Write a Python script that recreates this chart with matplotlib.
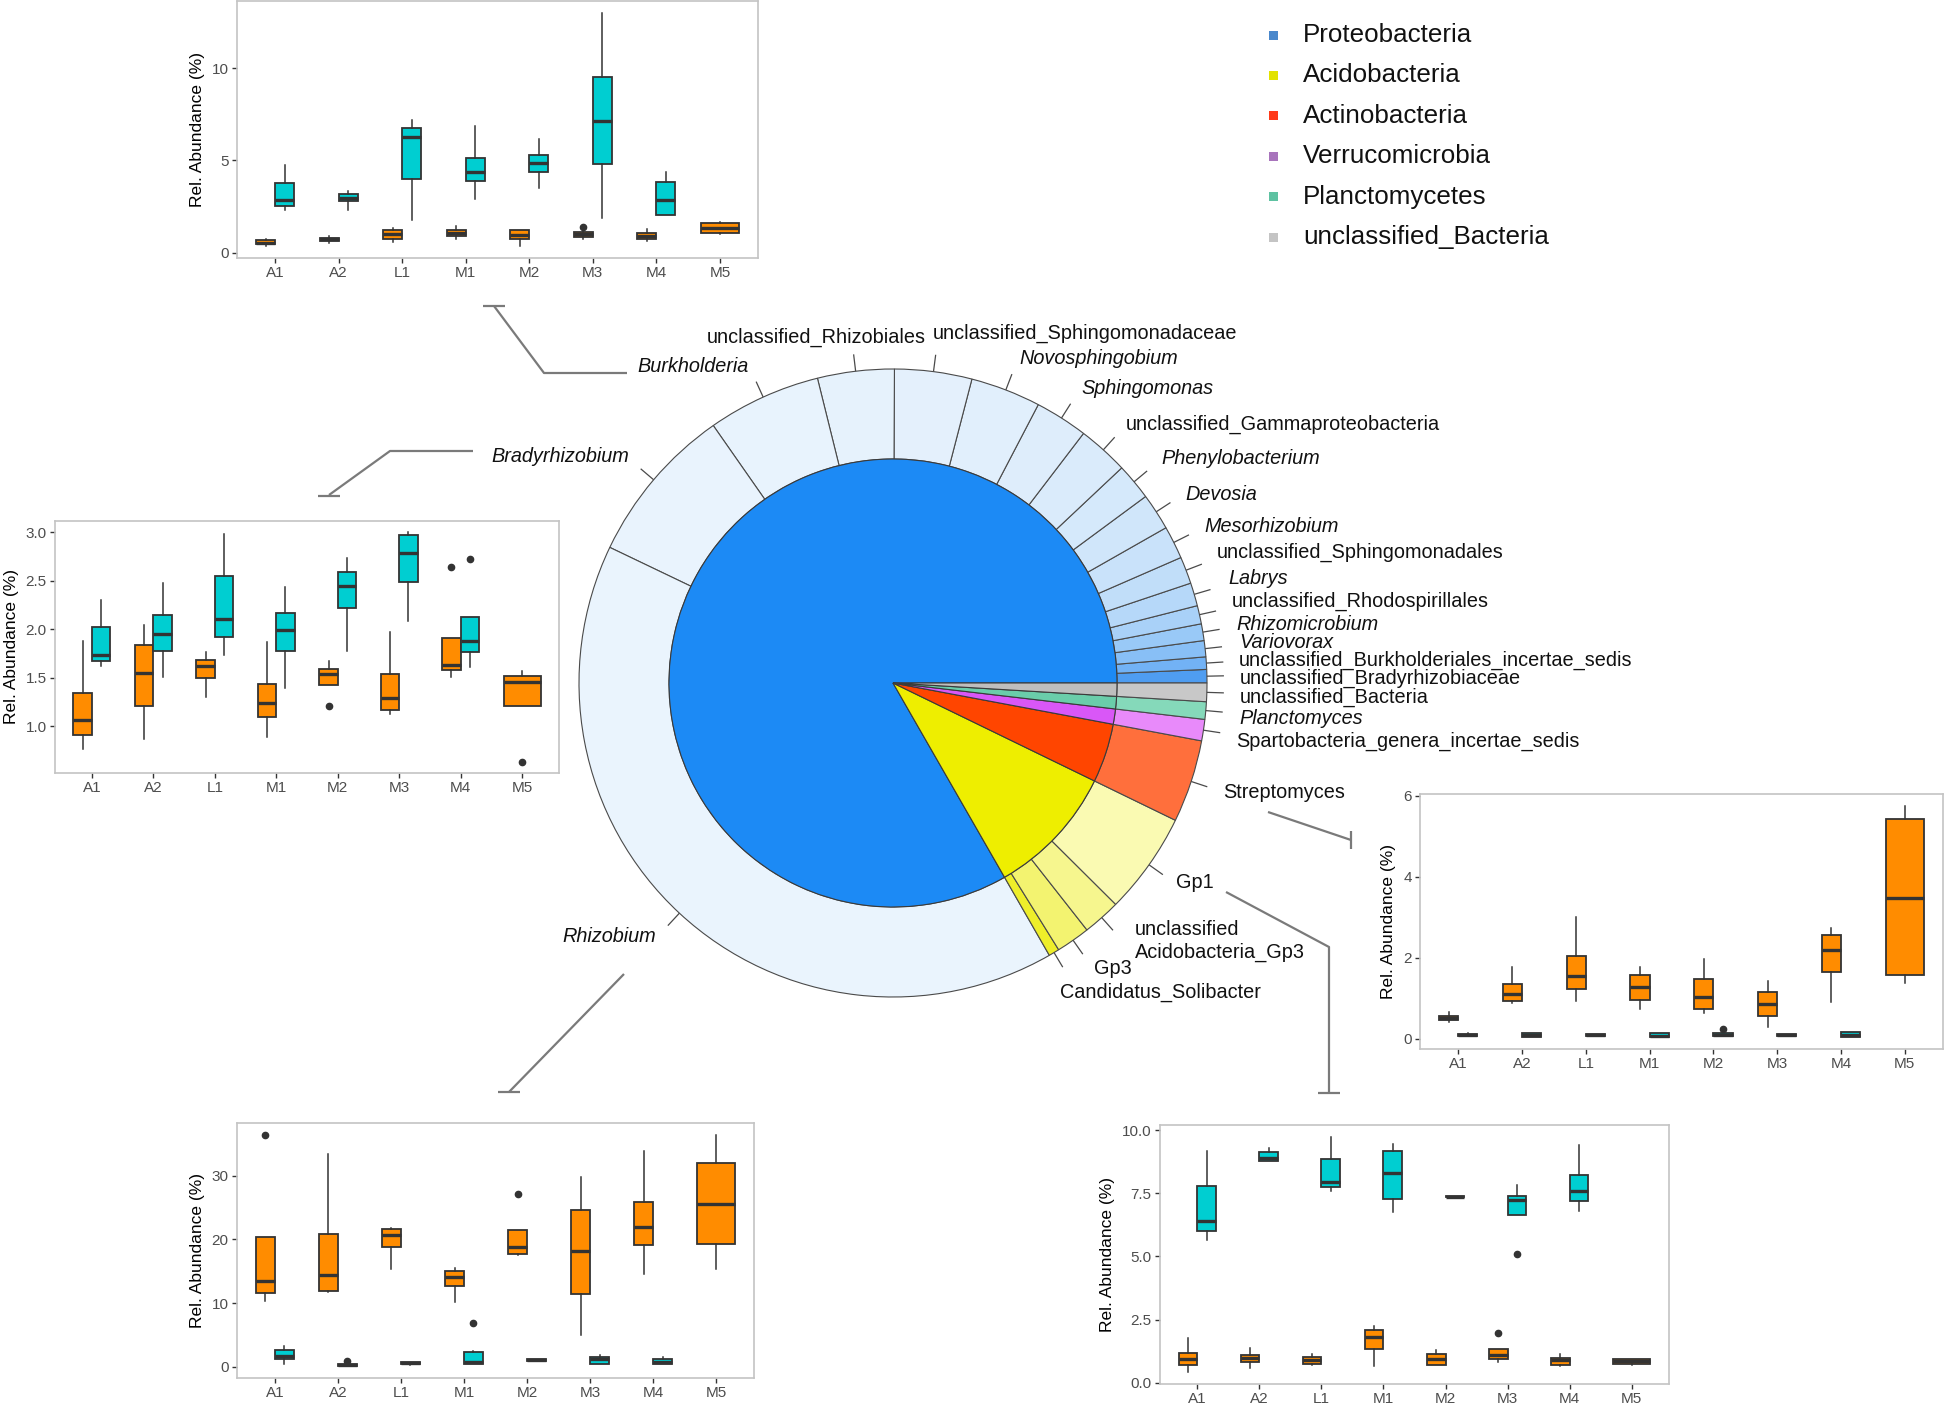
import numpy as np
import matplotlib
matplotlib.use("Agg")
import matplotlib.pyplot as plt
from matplotlib.patches import Rectangle
from matplotlib.ticker import FormatStrFormatter, FixedLocator

plt.rcParams['font.family'] = ['Liberation Sans', 'DejaVu Sans']

W, H, DPI = 1946, 1403, 100

# ======================= DATA =======================
phyla = ["Proteobacteria", "Acidobacteria", "Actinobacteria",
         "Verrucomicrobia", "Planctomycetes", "unclassified_Bacteria"]

proteo_genera = ["unclassified_Bradyrhizobiaceae", "unclassified_Burkholderiales_incertae_sedis",
                 "Variovorax", "Rhizomicrobium", "unclassified_Rhodospirillales", "Labrys",
                 "unclassified_Sphingomonadales", "Mesorhizobium", "Devosia", "Phenylobacterium",
                 "unclassified_Gammaproteobacteria", "Sphingomonas", "Novosphingobium",
                 "unclassified_Sphingomonadaceae", "unclassified_Rhizobiales", "Burkholderia",
                 "Bradyrhizobium", "Rhizobium"]
proteo_abund = [0.69, 0.64, 0.83, 0.86, 0.94, 1.19, 1.39, 1.69, 1.89, 1.89,
                2.61, 2.72, 3.61, 3.97, 3.94, 5.83, 8.19, 40.39]
acido_genera = ["Candidatus_Solibacter", "Gp3", "unclassified\nAcidobacteria_Gp3", "Gp1"]
acido_abund = [0.55, 1.75, 1.95, 5.25]
actino_genera = ["Streptomyces"]
actino_abund = [4.25]
verruco_genera = ["Spartobacteria_genera_incertae_sedis"]
verruco_abund = [1.10]
plancto_genera = ["Planctomyces"]
plancto_abund = [0.90]
unclass_genera = ["unclassified_Bacteria"]
unclass_abund = [0.95]

italic_genera = ["Variovorax", "Rhizomicrobium", "Labrys", "Mesorhizobium", "Devosia",
                 "Phenylobacterium", "Sphingomonas", "Novosphingobium", "Burkholderia",
                 "Bradyrhizobium", "Rhizobium", "Planctomyces"]

samples = ["A1", "A2", "L1", "M1", "M2", "M3", "M4", "M5"]

# box statistics per sample: (whisker low, q1, median, q3, whisker high)
burk_orange = [(0.35, 0.45, 0.54, 0.68, 0.75), (0.54, 0.65, 0.73, 0.82, 0.90),
               (0.59, 0.75, 1.02, 1.22, 1.33), (0.72, 0.90, 1.08, 1.25, 1.47),
               (0.39, 0.75, 0.95, 1.22, 1.25), (0.77, 0.88, 1.02, 1.13, 1.25),
               (0.63, 0.72, 0.93, 1.08, 1.29), (0.99, 1.08, 1.34, 1.63, 1.67)]
burk_orange_fl = [[], [], [], [], [], [1.42], [], []]
burk_cyan = [(2.30, 2.56, 2.87, 3.80, 4.75), (2.33, 2.78, 2.99, 3.17, 3.37),
             (1.76, 3.98, 6.25, 6.74, 7.17), (2.90, 3.87, 4.39, 5.14, 6.85),
             (3.49, 4.39, 4.87, 5.29, 6.18), (1.88, 4.82, 7.11, 9.52, 13.0),
             (2.06, 2.06, 2.87, 3.82, 4.35), None]
burk_cyan_fl = [[], [], [], [], [], [], [], []]

brady_orange = [(0.764, 0.911, 1.058, 1.339, 1.880), (0.866, 1.202, 1.545, 1.832, 2.038),
                (1.295, 1.500, 1.616, 1.685, 1.764), (0.884, 1.092, 1.236, 1.438, 1.863),
                (1.428, 1.428, 1.538, 1.589, 1.675), (1.127, 1.168, 1.288, 1.538, 1.973),
                (1.503, 1.579, 1.630, 1.911, 1.911), (1.209, 1.209, 1.452, 1.517, 1.572)]
brady_orange_fl = [[], [], [], [], [1.202], [], [2.637], [0.634]]
brady_cyan = [(1.623, 1.671, 1.729, 2.024, 2.305), (1.510, 1.774, 1.949, 2.144, 2.473),
              (1.729, 1.914, 2.106, 2.545, 2.980), (1.397, 1.774, 1.990, 2.171, 2.435),
              (1.777, 2.216, 2.449, 2.586, 2.736), (2.079, 2.483, 2.788, 2.973, 2.997),
              (1.613, 1.760, 1.877, 2.127, 2.127), None]
brady_cyan_fl = [[], [], [], [], [], [], [2.726], []]

rhizo_orange = [(10.38, 11.62, 13.49, 20.45, 20.45), (11.78, 11.94, 14.48, 20.91, 33.37),
                (15.41, 18.84, 20.65, 21.59, 21.80), (10.22, 12.61, 14.12, 15.00, 15.52),
                (17.49, 17.75, 18.79, 21.43, 21.43), (5.03, 11.42, 18.16, 24.60, 29.74),
                (14.63, 19.10, 21.90, 25.84, 33.83), (15.31, 19.36, 25.53, 32.02, 36.48)]
rhizo_orange_fl = [[36.43], [], [], [], [27.14], [], [], []]
rhizo_cyan = [(0.36, 1.19, 1.71, 2.65, 3.27), (0.05, 0.10, 0.31, 0.47, 0.60),
              (0.30, 0.36, 0.52, 0.73, 0.80), (0.36, 0.36, 0.78, 2.28, 2.44),
              (0.85, 0.88, 1.04, 1.19, 1.25), (0.36, 0.47, 1.19, 1.56, 1.92),
              (0.36, 0.47, 0.78, 1.25, 1.56), None]
rhizo_cyan_fl = [[], [0.93], [], [6.80], [], [], [], []]

strep_orange = [(0.409, 0.450, 0.500, 0.548, 0.646), (0.875, 0.940, 1.096, 1.357, 1.758),
                (0.932, 1.235, 1.537, 2.036, 3.000), (0.744, 0.957, 1.284, 1.578, 1.766),
                (0.630, 0.736, 1.038, 1.464, 1.970), (0.286, 0.548, 0.867, 1.161, 1.414),
                (0.916, 1.643, 2.200, 2.567, 2.739), (1.382, 1.562, 3.475, 5.413, 5.756)]
strep_orange_fl = [[], [], [], [], [], [], [], []]
strep_cyan = [(0.060, 0.065, 0.098, 0.123, 0.130), (0.050, 0.050, 0.090, 0.130, 0.130),
              (0.070, 0.075, 0.098, 0.120, 0.125), (0.030, 0.033, 0.075, 0.139, 0.140),
              (0.070, 0.075, 0.098, 0.130, 0.140), (0.070, 0.075, 0.098, 0.120, 0.125),
              (0.050, 0.050, 0.098, 0.155, 0.160), None]
strep_cyan_fl = [[], [], [], [], [0.237], [], [], []]

gp1_orange = [(0.420, 0.725, 0.949, 1.186, 1.765), (0.580, 0.817, 0.975, 1.120, 1.370),
              (0.711, 0.751, 0.922, 1.040, 1.146), (0.659, 1.357, 1.805, 2.095, 2.266),
              (0.711, 0.711, 0.949, 1.146, 1.300), (0.843, 0.949, 1.107, 1.330, 1.330),
              (0.685, 0.725, 0.909, 0.988, 1.159), (0.711, 0.751, 0.856, 0.949, 0.949)]
gp1_orange_fl = [[], [], [], [], [], [1.963], [], []]
gp1_cyan = [(5.652, 6.021, 6.416, 7.787, 9.157), (8.762, 8.762, 8.906, 9.117, 9.275),
            (7.576, 7.747, 7.958, 8.840, 9.736), (6.746, 7.270, 8.287, 9.170, 9.447),
            (7.350, 7.350, 7.365, 7.380, 7.380), (6.640, 6.640, 7.233, 7.378, 7.839),
            (6.785, 7.180, 7.576, 8.221, 9.407), None]
gp1_cyan_fl = [[], [], [], [], [], [5.099], [], []]

burk_yticks = [0, 5, 10]
brady_yticks = [1.0, 1.5, 2.0, 2.5, 3.0]
rhizo_yticks = [0, 10, 20, 30]
strep_yticks = [0, 2, 4, 6]
gp1_yticks = [0.0, 2.5, 5.0, 7.5, 10.0]

# ======================= STYLE / LAYOUT =======================
ORANGE = "#FF8C00"
CYAN = "#00CED1"
BOXLINE = "#333333"

inner_colors = ["#1C8AF5", "#EEEE00", "#FF4500", "#D957F7", "#6ACDAA", "#BEBEBE"]
legend_colors = ["#4A88CC", "#E2E200", "#FF3A1A", "#A874BC", "#5EC2A2", "#C4C4C4"]
proteo_colors = ["#4F9DF1", "#72B2F5", "#88BFF6", "#99C9F7", "#A9D1F8", "#B6D8F9",
                 "#C1DEF9", "#C9E2FA", "#D0E6FA", "#D5E9FB", "#DAEBFB", "#DEEDFB",
                 "#E1EFFC", "#E4F0FC", "#E6F2FC", "#E8F3FD", "#E9F3FD", "#EAF4FD"]
acido_colors = ["#EEEE2A", "#F3F370", "#F6F68E", "#FAFAB2"]
actino_colors = ["#FF6F3C"]
verruco_colors = ["#E88AFA"]
plancto_colors = ["#85D9BA"]
unclass_colors = ["#C8C8C8"]

PIE_C = (893, 683)      # pixel centre (from top)
R_OUT, R_IN = 314, 224

# label anchor (left x, centre y) in pixels
label_pos = {
    "unclassified_Bradyrhizobiaceae": (1240, 678),
    "unclassified_Burkholderiales_incertae_sedis": (1239, 660),
    "Variovorax": (1239, 642),
    "Rhizomicrobium": (1236, 624),
    "unclassified_Rhodospirillales": (1232, 601),
    "Labrys": (1228, 579),
    "unclassified_Sphingomonadales": (1217, 552),
    "Mesorhizobium": (1204, 527),
    "Devosia": (1185, 494),
    "Phenylobacterium": (1161, 459),
    "unclassified_Gammaproteobacteria": (1126, 424),
    "Sphingomonas": (1081, 389),
    "Novosphingobium": (1019, 358),
    "unclassified_Sphingomonadaceae": (933, 333),
    "unclassified_Rhizobiales": (707, 337),
    "Burkholderia": (637, 367),
    "Bradyrhizobium": (491, 456),
    "Rhizobium": (562, 937),
    "Candidatus_Solibacter": (1060, 992),
    "Gp3": (1094, 968),
    "unclassified\nAcidobacteria_Gp3": (1135, 941),
    "Gp1": (1176, 883),
    "Streptomyces": (1223, 792),
    "Spartobacteria_genera_incertae_sedis": (1236, 741),
    "Planctomyces": (1239, 718),
    "unclassified_Bacteria": (1240, 697),
}

connectors = [
    ([(627, 373), (544, 373), (494, 306)], [(483, 306), (505, 306)]),
    ([(473, 451), (390, 451), (329, 495)], [(318, 496), (340, 496)]),
    ([(624, 974), (509, 1092)], [(498, 1092), (520, 1092)]),
    ([(1268, 812), (1351, 840)], [(1351, 831), (1351, 849)]),
    ([(1226, 892), (1329, 947), (1329, 1093)], [(1318, 1093), (1340, 1093)]),
]

panels = {
    "burk": (237, 1, 758, 258),
    "brady": (55, 521, 559, 773),
    "rhizo": (237, 1123, 754, 1378),
    "strep": (1420, 794, 1943, 1049),
    "gp1": (1160, 1125, 1669, 1384),
}

fig = plt.figure(figsize=(W / DPI, H / DPI), dpi=DPI)
fig.patch.set_facecolor("white")

# ---------------- overlay (pie, labels, legend, connectors) ----------------
ov = fig.add_axes([0, 0, 1, 1])
ov.patch.set_visible(False)


def Y(y):
    return H - y


outer_names = proteo_genera + acido_genera + actino_genera + verruco_genera + plancto_genera + unclass_genera
outer_vals = proteo_abund + acido_abund + actino_abund + verruco_abund + plancto_abund + unclass_abund
outer_cols = proteo_colors + acido_colors + actino_colors + verruco_colors + plancto_colors + unclass_colors
inner_vals = [sum(proteo_abund), sum(acido_abund), sum(actino_abund),
              sum(verruco_abund), sum(plancto_abund), sum(unclass_abund)]

center = (PIE_C[0], Y(PIE_C[1]))
ov.pie(outer_vals, radius=R_OUT, center=center, startangle=0, counterclock=True,
       colors=outer_cols,
       wedgeprops=dict(width=R_OUT - R_IN, edgecolor="#4a4a4a", linewidth=0.8))
ov.pie(inner_vals, radius=R_IN, center=center, startangle=0, counterclock=True,
       colors=inner_colors,
       wedgeprops=dict(edgecolor="#3a3a3a", linewidth=0.8))

# radial ticks for outer labels
cum = np.cumsum([0] + outer_vals)
total = cum[-1]
for i, name in enumerate(outer_names):
    mid = np.deg2rad((cum[i] + cum[i + 1]) / 2 / total * 360)
    x0 = center[0] + R_OUT * np.cos(mid)
    y0 = center[1] + R_OUT * np.sin(mid)
    x1 = center[0] + (R_OUT + 17) * np.cos(mid)
    y1 = center[1] + (R_OUT + 17) * np.sin(mid)
    ov.plot([x0, x1], [y0, y1], color="#4a4a4a", lw=0.9, solid_capstyle="butt")
    lx, ly = label_pos[name]
    style = "italic" if name in italic_genera else "normal"
    ov.text(lx, Y(ly), name, fontsize=14.3, style=style, color="#111111",
            ha="left", va="center", linespacing=1.25)

for pts, bar in connectors:
    xs = [p[0] for p in pts]
    ys = [Y(p[1]) for p in pts]
    ov.plot(xs, ys, color="#7a7a7a", lw=1.6, solid_capstyle="butt")
    ov.plot([bar[0][0], bar[1][0]], [Y(bar[0][1]), Y(bar[1][1])], color="#7a7a7a", lw=1.6,
            solid_capstyle="butt")

# legend
for i, name in enumerate(phyla):
    yc = 35 + 40.4 * i
    ov.add_patch(Rectangle((1269, Y(yc) - 4.5), 9, 9, facecolor=legend_colors[i], edgecolor="none"))
    ov.text(1303, Y(yc), name, fontsize=18.7, color="#111111", ha="left", va="center")

ov.set_xlim(0, W)
ov.set_ylim(0, H)
ov.set_aspect("auto")
ov.axis("off")


# ---------------- box plots ----------------
def px_axes(rect):
    x0, y0, x1, y1 = rect
    return fig.add_axes([x0 / W, 1 - y1 / H, (x1 - x0) / W, (y1 - y0) / H])


def draw_panel(key, orange, orange_fl, cyan, cyan_fl, yticks, fmt):
    ax = px_axes(panels[key])
    allv = []
    for i in range(len(samples)):
        pos = i + 1
        both = orange[i] is not None and cyan[i] is not None
        for series, fl, col, off in ((orange, orange_fl, ORANGE, -0.15), (cyan, cyan_fl, CYAN, 0.15)):
            s = series[i]
            if s is None:
                continue
            lo, q1, med, q3, hi = s
            allv += [lo, hi] + list(fl[i])
            st = dict(whislo=lo, q1=q1, med=med, q3=q3, whishi=hi, fliers=fl[i])
            p = pos + off if both else pos
            w = 0.3 if both else 0.6
            ax.bxp([st], positions=[p], widths=[w], patch_artist=True, showcaps=False,
                   manage_ticks=False,
                   boxprops=dict(facecolor=col, edgecolor=BOXLINE, linewidth=1.3),
                   whiskerprops=dict(color=BOXLINE, linewidth=1.1),
                   medianprops=dict(color=BOXLINE, linewidth=2.4, solid_capstyle="butt"),
                   flierprops=dict(marker="o", markerfacecolor=BOXLINE, markeredgecolor=BOXLINE,
                                   markersize=4.5))
    lo, hi = min(allv), max(allv)
    pad = 0.05 * (hi - lo)
    ax.set_ylim(lo - pad, hi + pad)
    ax.set_xlim(0.4, len(samples) + 0.6)
    ax.set_xticks(range(1, len(samples) + 1))
    ax.set_xticklabels(samples)
    ax.yaxis.set_major_locator(FixedLocator(yticks))
    ax.yaxis.set_major_formatter(FormatStrFormatter(fmt))
    ax.tick_params(axis="both", length=3.5, width=1.0, color="#333333", labelsize=11,
                   labelcolor="#4D4D4D", pad=2.5)
    for sp in ax.spines.values():
        sp.set_color("#C4C4C4")
        sp.set_linewidth(1.2)
    ax.set_ylabel("Rel. Abundance (%)", fontsize=12.5, color="black", labelpad=5)
    ax.set_facecolor("white")
    return ax


draw_panel("burk", burk_orange, burk_orange_fl, burk_cyan, burk_cyan_fl, burk_yticks, "%d")
draw_panel("brady", brady_orange, brady_orange_fl, brady_cyan, brady_cyan_fl, brady_yticks, "%.1f")
draw_panel("rhizo", rhizo_orange, rhizo_orange_fl, rhizo_cyan, rhizo_cyan_fl, rhizo_yticks, "%d")
draw_panel("strep", strep_orange, strep_orange_fl, strep_cyan, strep_cyan_fl, strep_yticks, "%d")
draw_panel("gp1", gp1_orange, gp1_orange_fl, gp1_cyan, gp1_cyan_fl, gp1_yticks, "%.1f")

fig.savefig("out.png", dpi=DPI, facecolor="white")
